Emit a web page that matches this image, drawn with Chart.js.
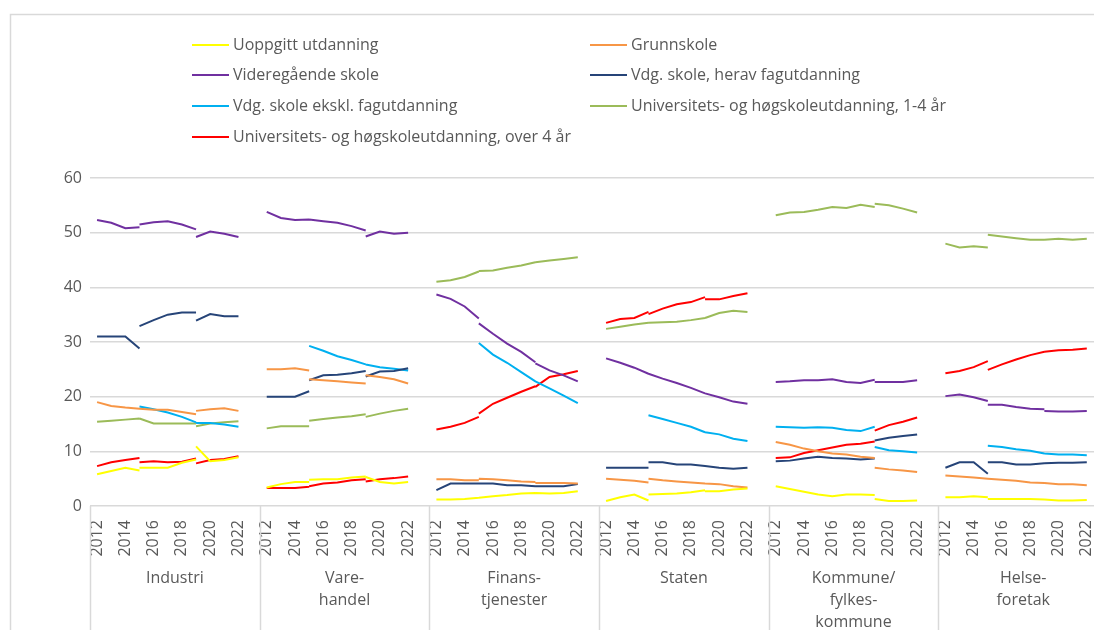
<!DOCTYPE html>
<html>
<head>
<meta charset="utf-8">
<script src="https://cdn.jsdelivr.net/npm/chart.js@4.4.1/dist/chart.umd.min.js"></script>
<style>
  html, body { margin: 0; padding: 0; background: #fff; overflow: hidden; }
  canvas { display: block; }
</style>
</head>
<body>
<canvas id="chart" width="1115" height="630"></canvas>
<script>
// Andel sysselsatte etter utdanningsnivå og næring, 2012-2022 (prosent)

const YEARS = [2012, 2013, 2014, 2015, 2016, 2017, 2018, 2019, 2020, 2021, 2022];
// each series has three segments per group: 2012-2015, 2015-2019, 2019-2022
const SEGMENT_START = [2012, 2015, 2019];
const GROUPS = [['Industri'], ['Vare-', 'handel'], ['Finans-', 'tjenester'], ['Staten'],
  ['Kommune/', 'fylkes-', 'kommune'], ['Helse-', 'foretak']];
const SLOTS_PER_GROUP = 12;

const uoppgitt = [
  [[5.8, 6.4, 7.0, 6.5], [7.0, 7.0, 7.0, 7.9, 8.5], [10.9, 8.2, 8.4, 8.9]],
  [[3.4, 4.0, 4.4, 4.4], [4.8, 4.9, 4.9, 5.2, 5.4], [5.3, 4.4, 4.1, 4.4]],
  [[1.2, 1.2, 1.3, 1.5], [1.5, 1.8, 2.0, 2.3, 2.4], [2.4, 2.3, 2.4, 2.7]],
  [[0.9, 1.6, 2.1, 1.0], [2.1, 2.2, 2.3, 2.5, 2.9], [2.7, 2.7, 3.0, 3.2]],
  [[3.6, 3.1, 2.6, 2.1], [2.1, 1.8, 2.1, 2.1, 2.0], [1.3, 0.9, 0.9, 1.0]],
  [[1.6, 1.6, 1.8, 1.6], [1.3, 1.3, 1.3, 1.3, 1.2], [1.2, 1.0, 1.0, 1.1]]
];
const grunnskole = [
  [[19.0, 18.3, 18.0, 17.8], [17.8, 17.6, 17.6, 17.2, 16.8], [17.4, 17.7, 17.9, 17.4]],
  [[25.0, 25.0, 25.2, 24.8], [23.2, 23.0, 22.8, 22.6, 22.4], [23.9, 23.6, 23.2, 22.4]],
  [[4.9, 4.9, 4.7, 4.7], [5.0, 4.9, 4.7, 4.5, 4.4], [4.2, 4.2, 4.2, 4.1]],
  [[5.0, 4.8, 4.6, 4.3], [5.0, 4.7, 4.5, 4.3, 4.1], [4.1, 4.0, 3.6, 3.4]],
  [[11.7, 11.2, 10.5, 10.0], [10.0, 9.6, 9.4, 9.0, 8.8], [7.0, 6.7, 6.5, 6.2]],
  [[5.6, 5.4, 5.2, 5.0], [5.0, 4.8, 4.6, 4.3, 4.2], [4.2, 4.0, 4.0, 3.8]]
];
const videregaende = [
  [[52.3, 51.8, 50.8, 51.0], [51.5, 51.9, 52.1, 51.5, 50.6], [49.2, 50.2, 49.8, 49.2]],
  [[53.8, 52.7, 52.3, 52.4], [52.4, 52.1, 51.8, 51.2, 50.4], [49.3, 50.2, 49.8, 50.0]],
  [[38.7, 37.9, 36.5, 34.3], [33.4, 31.5, 29.7, 28.2, 26.3], [26.1, 24.8, 23.9, 22.8]],
  [[27.0, 26.2, 25.3, 24.2], [24.2, 23.3, 22.5, 21.6, 20.6], [20.6, 19.9, 19.1, 18.7]],
  [[22.7, 22.8, 23.0, 23.0], [23.0, 23.2, 22.7, 22.5, 23.1], [22.7, 22.7, 22.7, 23.0]],
  [[20.1, 20.4, 19.9, 19.2], [18.5, 18.5, 18.1, 17.8, 17.7], [17.4, 17.3, 17.3, 17.4]]
];
const fagutdanning = [
  [[31.0, 31.0, 31.0, 28.8], [32.9, 34.0, 35.0, 35.4, 35.4], [33.9, 35.1, 34.7, 34.7]],
  [[20.0, 20.0, 20.0, 21.0], [23.0, 23.9, 24.0, 24.3, 24.7], [23.7, 24.6, 24.7, 25.2]],
  [[2.9, 4.1, 4.1, 4.1], [4.1, 4.1, 3.8, 3.8, 3.6], [3.6, 3.6, 3.6, 4.0]],
  [[7.0, 7.0, 7.0, 7.0], [8.0, 8.0, 7.6, 7.6, 7.3], [7.3, 7.0, 6.8, 7.0]],
  [[8.2, 8.3, 8.7, 9.0], [9.0, 8.8, 8.7, 8.5, 8.7], [12.0, 12.5, 12.8, 13.1]],
  [[7.0, 8.0, 8.0, 5.9], [8.0, 8.0, 7.6, 7.6, 7.8], [7.8, 7.9, 7.9, 8.0]]
];
const ekslFag = [
  [null, [18.2, 17.7, 17.1, 16.3, 15.3], [15.2, 15.2, 14.9, 14.5]],
  [null, [29.3, 28.4, 27.4, 26.7, 25.9], [25.9, 25.4, 25.1, 24.8]],
  [null, [29.8, 27.7, 26.2, 24.5, 22.8], [22.8, 21.5, 20.2, 18.8]],
  [null, [16.6, 15.9, 15.2, 14.5, 13.5], [13.5, 13.1, 12.3, 11.9]],
  [[14.5, 14.4, 14.3, 14.4], [14.4, 14.3, 13.9, 13.7, 14.5], [10.8, 10.2, 10.0, 9.8]],
  [null, [11.0, 10.8, 10.4, 10.1, 9.6], [9.6, 9.4, 9.4, 9.3]]
];
const uniKort = [
  [[15.4, 15.6, 15.8, 16.0], [16.0, 15.1, 15.1, 15.1, 15.1], [14.6, 15.1, 15.3, 15.5]],
  [[14.2, 14.6, 14.6, 14.6], [15.6, 15.9, 16.2, 16.4, 16.8], [16.3, 16.9, 17.4, 17.8]],
  [[41.0, 41.3, 41.9, 42.9], [43.0, 43.1, 43.6, 44.0, 44.6], [44.6, 44.9, 45.2, 45.5]],
  [[32.4, 32.8, 33.2, 33.5], [33.5, 33.6, 33.7, 34.0, 34.4], [34.4, 35.3, 35.7, 35.5]],
  [[53.2, 53.7, 53.8, 54.2], [54.2, 54.7, 54.5, 55.1, 54.7], [55.3, 55.0, 54.4, 53.7]],
  [[48.0, 47.3, 47.5, 47.3], [49.6, 49.3, 49.0, 48.7, 48.7], [48.7, 48.9, 48.7, 48.9]]
];
const uniLang = [
  [[7.3, 8.0, 8.4, 8.8], [8.0, 8.2, 8.0, 8.1, 8.7], [7.8, 8.4, 8.6, 9.1]],
  [[3.3, 3.3, 3.3, 3.5], [3.6, 4.1, 4.3, 4.7, 4.9], [4.5, 4.9, 5.1, 5.4]],
  [[14.0, 14.5, 15.2, 16.3], [16.9, 18.7, 19.8, 20.9, 21.9], [21.8, 23.6, 24.1, 24.7]],
  [[33.5, 34.2, 34.4, 35.5], [35.1, 36.1, 36.9, 37.3, 38.2], [37.8, 37.8, 38.4, 38.9]],
  [[8.8, 8.9, 9.7, 10.2], [10.2, 10.7, 11.2, 11.4, 11.8], [13.8, 14.8, 15.4, 16.2]],
  [[24.3, 24.7, 25.4, 26.5], [24.9, 25.9, 26.8, 27.6, 28.2], [28.2, 28.5, 28.6, 28.8]]
];

const SERIES = [
  { label: 'Uoppgitt utdanning', data: uoppgitt, color: '#FFFF00' },
  { label: 'Grunnskole', data: grunnskole, color: '#F79646' },
  { label: 'Videregående skole', data: videregaende, color: '#7030A0' },
  { label: 'Vdg. skole, herav fagutdanning', data: fagutdanning, color: '#264478' },
  { label: 'Vdg. skole ekskl. fagutdanning', data: ekslFag, color: '#00B0F0' },
  { label: 'Universitets- og høgskoleutdanning, 1-4 år', data: uniKort, color: '#9BBB59' },
  { label: 'Universitets- og høgskoleutdanning, over 4 år', data: uniLang, color: '#FF0000' }
];

const FONT = "'Open Sans', sans-serif";
const TEXT = '#595959';
const GRID = '#D9D9D9';

// flatten segments to x/y points, null between segments breaks the line
function toPoints(groups) {
  const pts = [];
  groups.forEach((segs, g) => {
    segs.forEach((seg, s) => {
      if (!seg) return;
      const start = SEGMENT_START[s] - YEARS[0];
      seg.forEach((v, i) => pts.push({ x: g * SLOTS_PER_GROUP + start + i, y: v }));
      pts.push({ x: g * SLOTS_PER_GROUP + start + seg.length - 1, y: null });
    });
  });
  return pts;
}

const frame = {
  id: 'frame',
  beforeDraw(chart) {
    const ctx = chart.ctx;
    ctx.save();
    ctx.strokeStyle = GRID;
    ctx.lineWidth = 1.5;
    ctx.beginPath();
    ctx.moveTo(10.5, chart.height + 5);
    ctx.lineTo(10.5, 14.5);
    ctx.lineTo(chart.width + 5, 14.5);
    ctx.stroke();
    ctx.restore();
  },
  afterDraw(chart) {
    const ctx = chart.ctx;
    const area = chart.chartArea;
    const x = chart.scales.x;
    ctx.save();
    // group separators and labels under the year ticks
    ctx.strokeStyle = GRID;
    ctx.lineWidth = 1.5;
    for (let g = 0; g <= GROUPS.length; g++) {
      const px = Math.round(x.getPixelForValue(g * SLOTS_PER_GROUP - 0.5)) + 0.5;
      ctx.beginPath();
      ctx.moveTo(px, area.bottom);
      ctx.lineTo(px, chart.height);
      ctx.stroke();
    }
    ctx.fillStyle = TEXT;
    ctx.font = '16px ' + FONT;
    ctx.textAlign = 'center';
    ctx.textBaseline = 'middle';
    GROUPS.forEach((lines, g) => {
      const cx = (x.getPixelForValue(g * SLOTS_PER_GROUP - 0.5) + x.getPixelForValue((g + 1) * SLOTS_PER_GROUP - 0.5)) / 2;
      lines.forEach((t, i) => ctx.fillText(t, cx, 578 + i * 22));
    });
    // legend in two columns
    ctx.textAlign = 'left';
    ctx.font = '16px ' + FONT;
    const colX = [192, 590];
    const rowY = [45, 75, 106, 137];
    SERIES.forEach((s, i) => {
      const lx = colX[i % 2];
      const ly = rowY[Math.floor(i / 2)];
      ctx.strokeStyle = s.color;
      ctx.lineWidth = 2;
      ctx.beginPath();
      ctx.moveTo(lx, ly);
      ctx.lineTo(lx + 37, ly);
      ctx.stroke();
      ctx.fillText(s.label, lx + 41, ly);
    });
    ctx.restore();
  }
};

new Chart(document.getElementById('chart'), {
  type: 'line',
  data: {
    datasets: SERIES.map(s => ({
      label: s.label,
      data: toPoints(s.data),
      borderColor: s.color,
      backgroundColor: s.color,
      borderWidth: 2,
      pointRadius: 0,
      tension: 0,
      spanGaps: false,
      fill: false
    }))
  },
  options: {
    responsive: false,
    animation: false,
    layout: { padding: { top: 178, right: 7, left: 0, bottom: 0 } },
    plugins: { legend: { display: false }, tooltip: { enabled: false } },
    scales: {
      x: {
        type: 'linear',
        min: -0.5,
        max: GROUPS.length * SLOTS_PER_GROUP - 0.5,
        grid: { display: false },
        border: { display: false },
        afterBuildTicks: scale => {
          const ticks = [];
          GROUPS.forEach((_, g) => {
            for (let k = 0; k < YEARS.length; k += 2) ticks.push({ value: g * SLOTS_PER_GROUP + k });
          });
          scale.ticks = ticks;
        },
        afterFit: scale => { scale.height = 124; },
        ticks: {
          autoSkip: false,
          minRotation: 90,
          maxRotation: 90,
          padding: 6,
          color: TEXT,
          font: { family: FONT, size: 16 },
          callback: v => YEARS[v % SLOTS_PER_GROUP]
        }
      },
      y: {
        min: 0,
        max: 60,
        afterFit: scale => { scale.width = 90; },
        grid: { color: GRID, lineWidth: 1.5, drawTicks: false },
        border: { display: false },
        ticks: {
          stepSize: 10,
          padding: 8,
          color: TEXT,
          font: { family: FONT, size: 16 }
        }
      }
    }
  },
  plugins: [frame]
});
</script>
</body>
</html>
